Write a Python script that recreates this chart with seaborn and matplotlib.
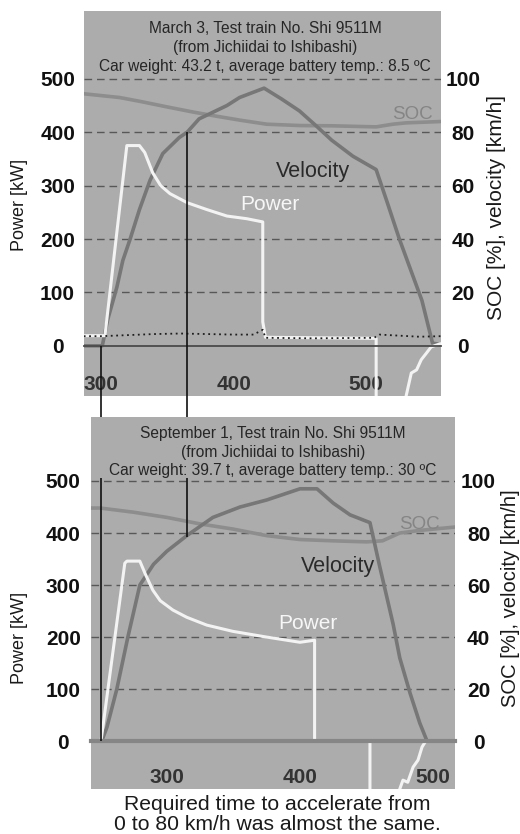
import matplotlib
matplotlib.use("Agg")
import matplotlib.pyplot as plt
import seaborn as sns

# ---- March 3 run (upper panel) ----
mar_power_t = [287, 303, 319.5, 329, 333, 339, 345, 352, 365, 380, 395, 410, 422, 422, 424,
               465, 507.5, 507.5, 529.5, 530, 534, 538, 541.5, 545, 549, 556]
mar_power_kw = [19, 19, 375, 375, 362, 324, 300, 285, 268, 255, 243, 238, 232, 45, 16,
                15, 14, -250, -250, -95, -51, -45, -26, -15, -2, 4]
mar_aux_t = [287, 300, 320, 340, 360, 380, 400, 415, 422, 424, 460, 506, 510, 525, 540, 556]
mar_aux_kw = [18, 18, 20, 22, 23, 22, 21, 21, 30, 15, 14, 15, 21, 19, 17, 18]
mar_vel_t = [287, 301, 305, 312, 316.5, 322, 329, 337, 346.6, 359, 365, 374, 395, 404.5,
             423, 436, 449.6, 462, 474, 490, 507.5, 516, 525, 534.6, 542, 550, 556]
mar_vel_kmh = [0, 0, 9.7, 22, 32, 40, 51, 62, 72, 78, 80, 85, 90, 93,
               96.5, 92.5, 88, 82.5, 77, 71, 66, 53.5, 40, 27, 17, 1, 0.5]
mar_soc_t = [287, 314, 330, 349.6, 370, 387, 405, 425, 450, 474, 507.5, 520, 530, 556]
mar_soc_pct = [94.4, 93, 91.5, 89.5, 87.5, 86, 84.5, 83, 82.5, 82.4, 82, 83, 83.5, 84]
mar_marks = [300, 365]          # start / 80 km/h reached
mar_mark_from = [0, 400]

# ---- September 1 run (lower panel) ----
sep_power_t = [243, 250.5, 268.4, 270, 279.7, 284, 289.5, 295, 304.5, 315, 330, 349.6, 375,
               400, 411, 411, 452.6, 452.6, 475, 477.4, 481, 485, 488.7, 491.7, 494, 495.5, 516.5]
sep_power_kw = [0, 0, 342, 346, 346, 320, 290, 270, 252, 238, 223, 211, 200,
                190, 194, 0, 0, -250, -92, -75, -79, -50, -36.5, -11.5, -2, 0, 0]
sep_vel_t = [243, 251, 255, 262.4, 270.7, 279.7, 290, 300, 315, 334.6, 355, 375, 400, 412.8,
             425, 437.6, 452.6, 460, 470, 475, 482.7, 490, 495.5, 516.5]
sep_vel_kmh = [0, 0, 5.4, 20, 40, 60, 68, 73, 79, 86, 90, 92.7, 97, 97,
               91.5, 87, 84, 67, 45, 32, 18.5, 7, 0, 0]
sep_soc_t = [243, 250, 275, 300, 325, 350, 375, 400, 425, 450, 462, 475, 490, 516.5]
sep_soc_pct = [89.6, 89.6, 88, 86, 83.5, 81.5, 79, 77.5, 77, 76.6, 77, 80, 81, 82.3]
sep_marks = [250.5, 315]
sep_mark_from = [0, 392]

power_ticks = [0, 100, 200, 300, 400, 500]
pct_ticks = [0, 20, 40, 60, 80, 100]
time_ticks = [300, 400, 500]

mar_title = ("March 3, Test train No. Shi 9511M\n(from Jichiidai to Ishibashi)\n"
             "Car weight: 43.2 t, average battery temp.: 8.5 \u00baC")
sep_title = ("September 1, Test train No. Shi 9511M\n(from Jichiidai to Ishibashi)\n"
             "Car weight: 39.7 t, average battery temp.: 30 \u00baC")

sns.set_theme(style="white")
plt.rcParams["font.family"] = ["Liberation Sans", "DejaVu Sans"]

BG = "#acacac"
VEL_C = "#777777"
SOC_C = "#8d8d8d"
PWR_C = "#f3f3f3"
GRID_C = "#585858"
W, H = 520, 834

fig = plt.figure(figsize=(W / 100, H / 100), dpi=100)


def px_rect(left, top, right, bottom):
    return [left / W, 1 - bottom / H, (right - left) / W, (bottom - top) / H]


def draw_panel(rect, xlim, ylim, pw_t, pw, vel_t, vel, soc_t, soc, title, title_x,
               axis_c, axis_lw, xpad, lpad, rpad):
    ax = fig.add_axes(rect)
    ax2 = ax.twinx()
    # velocity/SOC axis underneath, power axis on top
    ax.set_zorder(ax2.get_zorder() + 1)
    ax.patch.set_visible(False)
    ax2.patch.set_visible(True)
    ax2.set_facecolor(BG)

    ax.set_xlim(*xlim)
    ax.set_ylim(*ylim)
    ax2.set_ylim(ylim[0] / 5, ylim[1] / 5)

    ax2.set_yticks(pct_ticks)
    ax2.grid(axis="y", color=GRID_C, lw=1.0, dashes=(5.5, 3.5))
    ax2.get_ygridlines()[0].set_visible(False)

    sns.lineplot(x=soc_t, y=soc, ax=ax2, color=SOC_C, lw=2.6, sort=False, estimator=None)
    sns.lineplot(x=vel_t, y=vel, ax=ax2, color=VEL_C, lw=2.6, sort=False, estimator=None)
    sns.lineplot(x=pw_t, y=pw, ax=ax, color=PWR_C, lw=2.2, sort=False, estimator=None)

    for a in (ax, ax2):
        for s in ("left", "right", "top"):
            a.spines[s].set_visible(False)
    ax2.spines["bottom"].set_visible(False)
    ax.spines["bottom"].set_position(("data", 0))
    ax.spines["bottom"].set_color(axis_c)
    ax.spines["bottom"].set_linewidth(axis_lw)

    ax.set_xticks(time_ticks)
    ax.tick_params(axis="x", direction="in", length=4.5, width=1, color="#333333",
                   pad=xpad, labelsize=15, labelcolor="#333333")
    ax.set_yticks(power_ticks)
    ax.tick_params(axis="y", length=0, pad=lpad, labelsize=15, labelcolor="#111111")
    ax2.tick_params(axis="y", length=0, pad=rpad, labelsize=15, labelcolor="#111111")
    for lbl in ax.get_yticklabels() + ax2.get_yticklabels():
        lbl.set_ha("center")
        lbl.set_fontweight("bold")
    for lbl in ax.get_xticklabels():
        lbl.set_fontweight("bold")
    ax.set_xlabel("")
    ax.set_ylabel("")
    ax2.set_ylabel("")

    ax.text(title_x, 0.905, title, transform=ax.transAxes, ha="center", va="center",
            fontsize=11.2, color="#262626", linespacing=1.3)
    return ax, ax2


top_rect = px_rect(84, 11, 441, 396)
bot_rect = px_rect(91, 417, 455, 789)

ax_a, ax_a2 = draw_panel(top_rect, (287.2, 556.4), (-94, 627), mar_power_t, mar_power_kw,
                         mar_vel_t, mar_vel_kmh, mar_soc_t, mar_soc_pct, mar_title, 0.507,
                         "#4a4a4a", 1.3, 21, 19, 16)
sns.lineplot(x=mar_aux_t, y=mar_aux_kw, ax=ax_a, color="#1e1e1e", lw=1.3,
             linestyle=(0, (1, 2)), sort=False, estimator=None)

ax_b, ax_b2 = draw_panel(bot_rect, (243, 516.5), (-92, 623), sep_power_t, sep_power_kw,
                         sep_vel_t, sep_vel_kmh, sep_soc_t, sep_soc_pct, sep_title, 0.5,
                         "#868686", 3.0, 19, 20, 17)

# marker lines: upper ones run down to the top of the lower panel
gap_y = ax_a.transData.inverted().transform(
    fig.transFigure.transform((0, bot_rect[1] + bot_rect[3])))[1]
for t, y0 in zip(mar_marks, mar_mark_from):
    ax_a.vlines(t, gap_y, y0, color="#111111", lw=1.2, clip_on=False, zorder=5)
for t, y0 in zip(sep_marks, sep_mark_from):
    ax_b.vlines(t, y0, 505, color="#111111", lw=1.2, clip_on=False, zorder=5)

# in-plot series labels
ax_a.text(534.6, 433, "SOC", ha="center", va="center", fontsize=13.5, color="#858585")
ax_a.text(459.8, 326, "Velocity", ha="center", va="center", fontsize=15.5, color="#2a2a2a")
ax_a.text(427, 264.5, "Power", ha="center", va="center", fontsize=15, color="#f7f7f7")
ax_b.text(489.5, 416, "SOC", ha="center", va="center", fontsize=13.5, color="#858585")
ax_b.text(428.2, 336.5, "Velocity", ha="center", va="center", fontsize=15.5, color="#2a2a2a")
ax_b.text(405.6, 227, "Power", ha="center", va="center", fontsize=15, color="#f7f7f7")

# axis titles
fig.text(20 / W, 1 - 205 / H, "Power [kW]", rotation=90, ha="center", va="center",
         fontsize=13, color="#1a1a1a")
fig.text(20 / W, 1 - 638 / H, "Power [kW]", rotation=90, ha="center", va="center",
         fontsize=13, color="#1a1a1a")
fig.text(496 / W, 1 - 207 / H, "SOC [%], velocity [km/h]", rotation=90, ha="center",
         va="center", fontsize=15, color="#1a1a1a")
fig.text(510 / W, 1 - 598 / H, "SOC [%], velocity [km/h]", rotation=90, ha="center",
         va="center", fontsize=14.5, color="#1a1a1a")

fig.text(277 / W, 1 - 805 / H, "Required time to accelerate from", ha="center",
         va="center", fontsize=15.2, color="#1a1a1a")
fig.text(277 / W, 1 - 825 / H, "0 to 80 km/h was almost the same.", ha="center",
         va="center", fontsize=15.2, color="#1a1a1a")

fig.savefig("out.png", dpi=100)
